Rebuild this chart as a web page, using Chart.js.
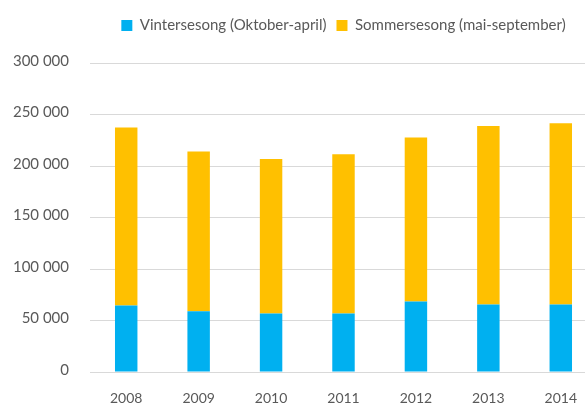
<!DOCTYPE html>
<html>
<head>
<meta charset="utf-8">
<script src="https://cdn.jsdelivr.net/npm/chart.js@4"></script>
<style>
    html, body { margin: 0; padding: 0; background: #fff; overflow: hidden; }
    #wrap { width: 600px; height: 405px; }
</style>
</head>
<body>
<div id="wrap"><canvas id="seasonChart"></canvas></div>
<script>
// Data
const years = ['2008', '2009', '2010', '2011', '2012', '2013', '2014'];
const winterValues = [64600, 59100, 56900, 56900, 68500, 65600, 65600];
const summerValues = [172700, 155000, 149800, 154600, 159200, 173300, 175900];
const seriesLabels = ['Vintersesong (Oktober-april)', 'Sommersesong (mai-september)'];

const textColor = '#595959';
const gridColor = '#d9d9d9';

function formatThousands(v) {
    return String(v).replace(/\B(?=(\d{3})+(?!\d))/g, ' ');
}

// push the plot area down below the legend
const legendMargin = {
    id: 'legendMargin',
    beforeInit(chart) {
        const fit = chart.legend.fit;
        chart.legend.fit = function () {
            fit.bind(chart.legend)();
            this.height += 20;
        };
    }
};

const ctx = document.getElementById('seasonChart').getContext('2d');
new Chart(ctx, {
    type: 'bar',
    data: {
        labels: years,
        datasets: [
            {
                label: seriesLabels[0],
                data: winterValues,
                backgroundColor: '#00B0F0',
                borderWidth: 0
            },
            {
                label: seriesLabels[1],
                data: summerValues,
                backgroundColor: '#FFC000',
                borderWidth: 0
            }
        ]
    },
    options: {
        responsive: true,
        maintainAspectRatio: false,
        animation: false,
        layout: { padding: { top: 8, right: 3, left: 0, bottom: 0 } },
        font: { family: 'Lato', size: 14 },
        plugins: {
            legend: {
                position: 'top',
                fullSize: false,
                labels: {
                    color: textColor,
                    font: { family: 'Lato', size: 15 },
                    boxWidth: 11,
                    boxHeight: 11,
                    padding: 10
                }
            },
            tooltip: { enabled: false }
        },
        datasets: {
            bar: { categoryPercentage: 1, barPercentage: 0.31 }
        },
        scales: {
            x: {
                stacked: true,
                grid: { display: false, drawTicks: false },
                border: { display: false },
                ticks: {
                    color: textColor,
                    font: { family: 'Lato', size: 14 },
                    padding: 18,
                    maxRotation: 0
                },
                afterFit: (axis) => { axis.height = 33; }
            },
            y: {
                stacked: true,
                min: 0,
                max: 300000,
                grid: { color: gridColor, lineWidth: 1, drawTicks: false },
                border: { display: false },
                ticks: {
                    stepSize: 50000,
                    color: textColor,
                    font: { family: 'Lato', size: 15 },
                    padding: 21,
                    labelOffset: -2,
                    callback: (v) => formatThousands(v)
                },
                afterFit: (axis) => { axis.width = 90; }
            }
        }
    },
    plugins: [legendMargin]
});
</script>
</body>
</html>
